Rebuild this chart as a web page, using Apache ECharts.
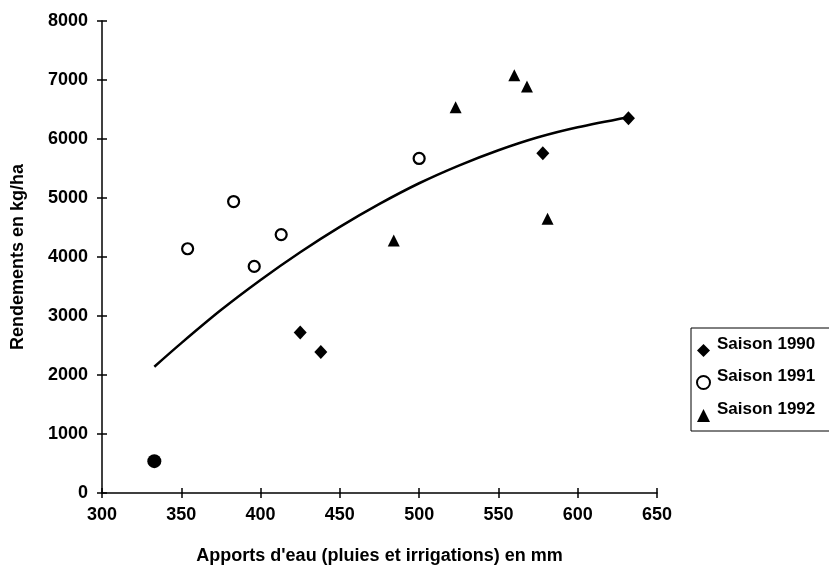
<!DOCTYPE html>
<html>
<head>
<meta charset="utf-8">
<title>Rendements en fonction des apports d'eau</title>
<script src="https://cdn.jsdelivr.net/npm/echarts@6/dist/echarts.min.js"></script>
<style>
    html, body { margin: 0; padding: 0; background: #fff; }
    #chart { width: 829px; height: 568px; }
</style>
</head>
<body>
<div id="chart"></div>
<script>
// données : [apports d'eau (mm), rendement (kg/ha)]
const saison1990 = [[425, 2720], [438, 2390], [578, 5760], [632, 6350]];
const saison1991 = [[354, 4140], [383, 4940], [396, 3840], [413, 4380], [500, 5670]];
const saison1992 = [[484, 4280], [523, 6540], [560, 7080], [568, 6890], [581, 4650]];
const pointIsole = [[333, 540]];

// courbe d'ajustement
const courbeX = [333, 350, 375, 400, 425, 450, 475, 500, 525, 550, 575, 600, 632];
const courbeY = [2140, 2540, 3100, 3610, 4080, 4510, 4900, 5250, 5550, 5810, 6030, 6200, 6370];

const nomsSaisons = ['Saison 1990', 'Saison 1991', 'Saison 1992'];

const police = '"Liberation Sans", Arial, sans-serif';

document.addEventListener('DOMContentLoaded', function() {
    const chart = echarts.init(document.getElementById('chart'));

    // zone de tracé
    const gauche = 102, droite = 172, haut = 21, bas = 75;
    const largeur = 829 - gauche - droite;
    const hauteur = 568 - haut - bas;

    const trait = { color: '#000', width: 1.5 };
    const axeX = {
        type: 'value',
        min: 300,
        max: 650,
        interval: 50,
        splitLine: { show: false },
        axisLine: { lineStyle: trait },
        axisTick: { length: 5, lineStyle: trait }
    };
    const axeY = {
        type: 'value',
        min: 0,
        max: 8000,
        interval: 1000,
        splitLine: { show: false },
        axisLine: { lineStyle: trait },
        axisTick: { length: 5, lineStyle: trait }
    };
    const etiquette = { fontFamily: police, fontWeight: 'bold', fontSize: 18, color: '#000' };

    const option = {
        backgroundColor: '#fff',
        animation: false,
        grid: { left: gauche, right: droite, top: haut, bottom: bas, outerBoundsMode: 'none' },
        xAxis: [
            Object.assign({}, axeX, {
                name: "Apports d'eau (pluies et irrigations) en mm",
                nameLocation: 'middle',
                nameGap: 54,
                nameTextStyle: etiquette,
                axisLabel: Object.assign({ margin: 13, formatter: v => String(v) }, etiquette)
            }),
            // axe miroir ramené sur l'axe du bas : graduations vers le haut (croix)
            Object.assign({}, axeX, {
                position: 'top',
                offset: -hauteur,
                axisLine: { show: false },
                axisLabel: { show: false }
            })
        ],
        yAxis: [
            Object.assign({}, axeY, {
                name: 'Rendements en kg/ha',
                nameLocation: 'middle',
                nameGap: 75,
                nameTextStyle: etiquette,
                axisLabel: Object.assign({ margin: 14, formatter: v => String(v) }, etiquette)
            }),
            Object.assign({}, axeY, {
                position: 'right',
                offset: -largeur,
                axisLine: { show: false },
                axisLabel: { show: false }
            })
        ],
        legend: {
            orient: 'vertical',
            left: 691,
            top: 328,
            data: [
                { name: nomsSaisons[0], icon: 'diamond' },
                { name: nomsSaisons[1], icon: 'circle' },
                { name: nomsSaisons[2], icon: 'triangle' }
            ],
            itemWidth: 13,
            itemHeight: 13,
            itemGap: 11,
            padding: [8, 40, 9, 5],
            borderColor: '#000',
            borderWidth: 1,
            borderRadius: 0,
            formatter: '{t|{name}}',
            textStyle: {
                rich: {
                    t: {
                        fontFamily: police,
                        fontWeight: 'bold',
                        fontSize: 17,
                        color: '#000',
                        padding: [0, 0, 12, 2]
                    }
                }
            }
        },
        series: [
            {
                type: 'line',
                data: courbeX.map((x, i) => [x, courbeY[i]]),
                smooth: 0.3,
                symbol: 'none',
                lineStyle: { color: '#000', width: 2.5 },
                z: 1
            },
            {
                name: nomsSaisons[0],
                type: 'scatter',
                data: saison1990,
                symbol: 'diamond',
                symbolSize: [13, 14],
                itemStyle: { color: '#000', opacity: 1 }
            },
            {
                name: nomsSaisons[1],
                type: 'scatter',
                data: saison1991,
                symbol: 'circle',
                symbolSize: 11,
                itemStyle: { color: '#fff', borderColor: '#000', borderWidth: 2.2, opacity: 1 }
            },
            {
                name: nomsSaisons[2],
                type: 'scatter',
                data: saison1992,
                symbol: 'triangle',
                symbolSize: [12, 12],
                itemStyle: { color: '#000', opacity: 1 }
            },
            {
                type: 'scatter',
                data: pointIsole,
                symbol: 'circle',
                symbolSize: 14,
                itemStyle: { color: '#000', opacity: 1 }
            }
        ]
    };

    chart.setOption(option);
});
</script>
</body>
</html>
